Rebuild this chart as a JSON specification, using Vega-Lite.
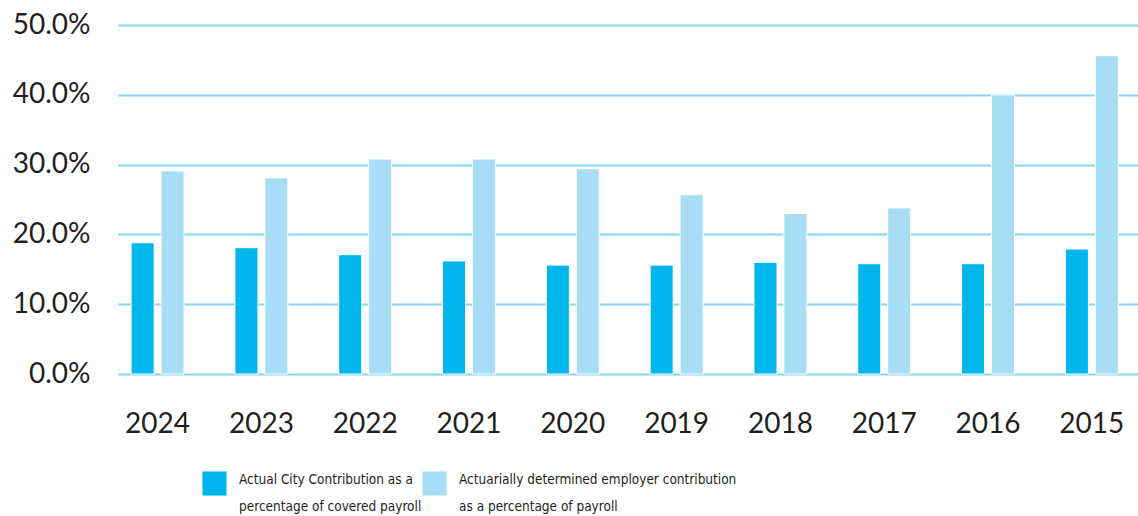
{
  "$schema": "https://vega.github.io/schema/vega-lite/v6.json",
  "autosize": "none",
  "width": 1020,
  "height": 349,
  "padding": {"left": 118, "top": 25, "right": 0, "bottom": 142},
  "background": "white",
  "data": {"values": [
    {"year": "2024", "series": "Actual", "value": 18.8},
    {"year": "2024", "series": "ADC", "value": 29.1},
    {"year": "2023", "series": "Actual", "value": 18.1},
    {"year": "2023", "series": "ADC", "value": 28.1},
    {"year": "2022", "series": "Actual", "value": 17.1},
    {"year": "2022", "series": "ADC", "value": 30.8},
    {"year": "2021", "series": "Actual", "value": 16.2},
    {"year": "2021", "series": "ADC", "value": 30.8},
    {"year": "2020", "series": "Actual", "value": 15.6},
    {"year": "2020", "series": "ADC", "value": 29.4},
    {"year": "2019", "series": "Actual", "value": 15.6},
    {"year": "2019", "series": "ADC", "value": 25.7},
    {"year": "2018", "series": "Actual", "value": 16.0},
    {"year": "2018", "series": "ADC", "value": 23.0},
    {"year": "2017", "series": "Actual", "value": 15.8},
    {"year": "2017", "series": "ADC", "value": 23.8},
    {"year": "2016", "series": "Actual", "value": 15.8},
    {"year": "2016", "series": "ADC", "value": 40.0},
    {"year": "2015", "series": "Actual", "value": 17.9},
    {"year": "2015", "series": "ADC", "value": 45.6}
  ]},
  "mark": {"type": "bar", "stroke": "white", "strokeWidth": 1},
  "encoding": {
    "x": {
      "field": "year", "type": "nominal", "sort": null,
      "scale": {"paddingInner": 0.49, "paddingOuter": 0.158, "align": 0.4},
      "axis": {"title": null, "labelAngle": 0, "domain": false, "ticks": false, "grid": false,
        "labelFont": "Lato", "labelFontSize": 28, "labelColor": "#231f20", "labelPadding": 50, "labelBaseline": "middle"}
    },
    "xOffset": {
      "field": "series", "type": "nominal", "sort": ["Actual", "ADC"],
      "scale": {"paddingInner": 0.23, "paddingOuter": 0}
    },
    "y": {
      "field": "value", "type": "quantitative",
      "scale": {"domain": [0, 50]},
      "axis": {"title": null, "values": [0, 10, 20, 30, 40, 50], "format": ".1f", "labelExpr": "datum.label + '%'",
        "domain": false, "ticks": false, "grid": true, "gridColor": "#86d3f0", "gridWidth": 2, "gridOpacity": 1,
        "labelFont": "Lato", "labelFontSize": 28, "labelColor": "#231f20", "labelPadding": 28}
    },
    "color": {
      "field": "series", "type": "nominal", "sort": ["Actual", "ADC"],
      "scale": {"domain": ["Actual", "ADC"], "range": ["#00b6ec", "#a7def6"]},
      "legend": {
        "title": null, "orient": "none", "legendX": 84, "legendY": 446, "direction": "horizontal",
        "columns": 2, "columnPadding": -7, "symbolType": "square", "symbolSize": 580, "symbolStrokeWidth": 0,
        "labelFont": "DejaVu Sans Condensed", "labelFontSize": 13.5, "labelColor": "#231f20", "labelOffset": 12,
        "labelLimit": 400, "labelBaseline": "alphabetic",
        "labelExpr": "datum.label == 'Actual' ? ['Actual City Contribution as a', 'percentage of covered payroll'] : ['Actuarially determined employer contribution', 'as a percentage of payroll']"
      }
    }
  },
  "config": {"view": {"stroke": null}, "style": {"guide-label": {"lineHeight": 27}}}
}
